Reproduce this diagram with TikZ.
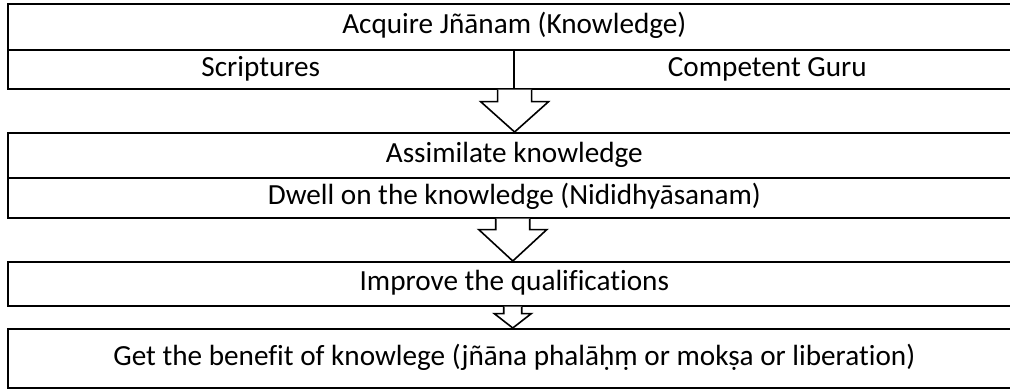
\documentclass[tikz,border=0pt]{standalone}
\usepackage{fontspec}
\setmainfont{Carlito}[Ligatures=NoCommon]
\usetikzlibrary{calc}
\tikzset{
  cell/.style={draw=black, line width=1.6pt, fill=white, inner sep=0pt, anchor=north west,
    text height=20pt, text depth=6pt, font=\fontsize{29.2}{34}\selectfont},
  barrow/.style={draw=black, line width=1.6pt, fill=white, line join=miter}
}
\newcommand\blockarr[5]{%
  \draw[barrow] ($(#1)+(-#3,0)$) -- ($(#1)+(-#3,#5)$) -- ($(#1)+(-#4,#5)$) -- (#1 |- #2)
    -- ($(#1)+(#4,#5)$) -- ($(#1)+(#3,#5)$) -- ($(#1)+(#3,0)$);
}
\begin{document}
\begin{tikzpicture}[x=1pt,y=-1pt]
\useasboundingbox (0,0) rectangle (1010,389);
\begin{scope}
\clip (0,0) rectangle (1010,389);
\node[cell, minimum width=1013pt, minimum height=46pt] (acq) at (7,3) {Acquire Jñānam (Knowledge)};
\node[cell, minimum width=506pt, minimum height=39pt] (scr) at (7,49) {Scriptures};
\node[cell, minimum width=507pt, minimum height=39pt] (gur) at (513,49) {Competent Guru};
\node[cell, minimum width=1013pt, minimum height=45pt] (ass) at (7,132) {Assimilate knowledge};
\node[cell, minimum width=1013pt, minimum height=40pt] (dwe) at (7,177) {Dwell on the knowledge (Nididhyāsanam)};
\node[cell, minimum width=1013pt, minimum height=44pt] (imp) at (7,261) {Improve the qualifications};
\node[cell, minimum width=1013pt, minimum height=59pt] (get) at (7,328) {Get the benefit of knowlege (jñāna phalāḥṃ or mokṣa or liberation)};
\coordinate (a1) at (scr.south east);
\coordinate (a2) at ($(dwe.south west)!0.4985!(dwe.south east)$);
\coordinate (a3) at ($(imp.south west)!0.4985!(imp.south east)$);
\blockarr{a1}{ass.north}{17}{34}{12}
\blockarr{a2}{imp.north}{17}{34}{11}
\blockarr{a3}{get.north}{9}{18.5}{7}
\end{scope}
\end{tikzpicture}
\end{document}
